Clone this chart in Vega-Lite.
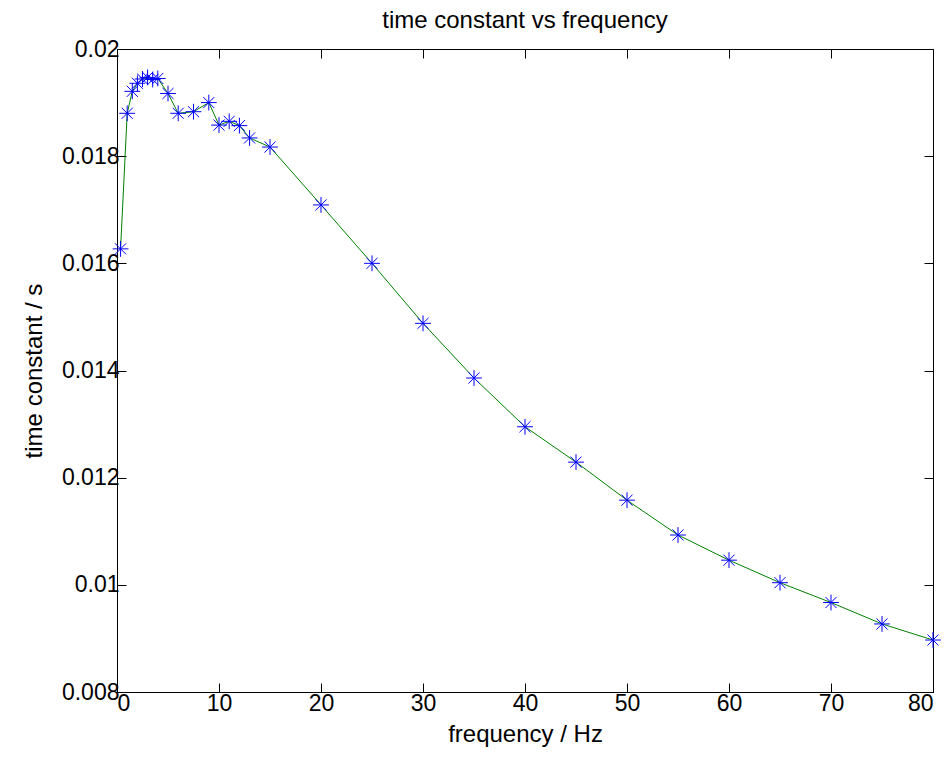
{
  "$schema": "https://vega.github.io/schema/vega-lite/v6.json",
  "width": 816,
  "height": 643,
  "autosize": {"type": "none"},
  "padding": {"left": 117, "top": 49, "right": 15, "bottom": 66},
  "background": "white",
  "title": {"text": "time constant vs frequency", "fontSize": 24, "font": "Liberation Sans", "fontWeight": "normal", "color": "black", "offset": 5},
  "config": {
    "view": {"stroke": "black", "strokeWidth": 1},
    "axis": {
      "grid": false,
      "domain": false,
      "tickColor": "black",
      "tickSize": -9,
      "labelColor": "black",
      "titleColor": "black",
      "labelFont": "Liberation Sans",
      "titleFont": "Liberation Sans",
      "labelFontSize": 23,
      "titleFontSize": 24,
      "titleFontWeight": "normal"
    }
  },
  "data": {
    "values": [
      {"f": 0.35, "tau": 0.01627},
      {"f": 1, "tau": 0.0188},
      {"f": 1.5, "tau": 0.01921},
      {"f": 2, "tau": 0.01936},
      {"f": 2.5, "tau": 0.01944},
      {"f": 3, "tau": 0.01947},
      {"f": 3.5, "tau": 0.01943},
      {"f": 4, "tau": 0.01945},
      {"f": 5, "tau": 0.01917},
      {"f": 6, "tau": 0.0188},
      {"f": 7.5, "tau": 0.01883},
      {"f": 9, "tau": 0.019},
      {"f": 10, "tau": 0.01858},
      {"f": 11, "tau": 0.01865},
      {"f": 12, "tau": 0.01857},
      {"f": 13, "tau": 0.01834},
      {"f": 15, "tau": 0.01817},
      {"f": 20, "tau": 0.01709},
      {"f": 25, "tau": 0.016},
      {"f": 30, "tau": 0.01488},
      {"f": 35, "tau": 0.01386},
      {"f": 40, "tau": 0.01295},
      {"f": 45, "tau": 0.01229},
      {"f": 50, "tau": 0.01158},
      {"f": 55, "tau": 0.01093},
      {"f": 60, "tau": 0.01046},
      {"f": 65, "tau": 0.01004},
      {"f": 70, "tau": 0.00967},
      {"f": 75, "tau": 0.00927},
      {"f": 80, "tau": 0.00897}
    ]
  },
  "layer": [
    {
      "mark": {"type": "line", "color": "#008000", "strokeWidth": 1},
      "encoding": {
        "x": {
          "field": "f", "type": "quantitative",
          "scale": {"domain": [0, 80], "nice": false, "zero": false},
          "axis": {"orient": "bottom", "values": [0, 10, 20, 30, 40, 50, 60, 70, 80], "title": "frequency / Hz", "labelPadding": 9, "titlePadding": 7}
        },
        "y": {
          "field": "tau", "type": "quantitative",
          "scale": {"domain": [0.008, 0.02], "nice": false, "zero": false},
          "axis": {"orient": "left", "values": [0.008, 0.01, 0.012, 0.014, 0.016, 0.018, 0.02], "format": "~g", "title": "time constant / s", "labelPadding": 7, "titlePadding": 15}
        }
      }
    },
    {
      "mark": {"type": "point", "shape": "M-1,0L1,0M0,-1L0,1M-0.7,-0.7L0.7,0.7M-0.7,0.7L0.7,-0.7", "size": 250, "stroke": "#0000ff", "strokeWidth": 1, "filled": false, "opacity": 1},
      "encoding": {
        "x": {
          "field": "f", "type": "quantitative",
          "axis": {"orient": "top", "values": [0, 10, 20, 30, 40, 50, 60, 70, 80], "labels": false, "title": null}
        },
        "y": {
          "field": "tau", "type": "quantitative",
          "axis": {"orient": "right", "values": [0.008, 0.01, 0.012, 0.014, 0.016, 0.018, 0.02], "labels": false, "title": null}
        }
      }
    }
  ],
  "resolve": {"axis": {"x": "independent", "y": "independent"}}
}
